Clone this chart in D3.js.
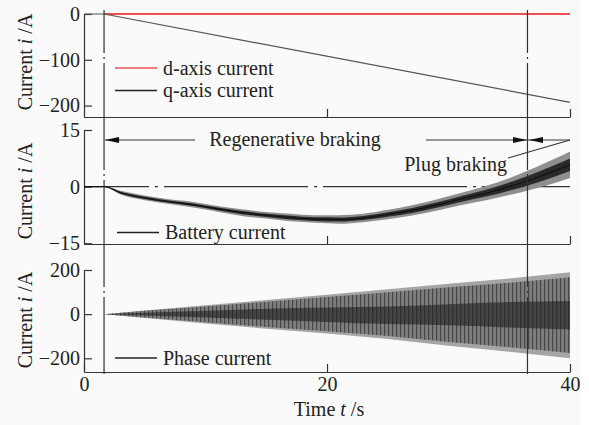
<!DOCTYPE html>
<html>
<head>
<meta charset="utf-8">
<script src="https://cdn.jsdelivr.net/npm/d3@7"></script>
<style>
  body { margin: 0; background: #fff; }
  svg { display: block; }
  text { font-family: "Liberation Serif", "Times New Roman", serif; fill: #222; }
</style>
</head>
<body>
<svg id="chart" width="589" height="425"></svg>
<script>
// ---- data ----
const timeTicks = [0, 20, 40];
const brakingTimes = [1.65, 36.5];          // start of braking, start of plug braking

const topTicks = [0, -100, -200];
const midTicks = [15, 0, -15];
const botTicks = [200, 0, -200];

// top panel : dq currents
const qTime = [0, 1.65, 40];
const qCurrent = [0, 0, -193];
const dTime = [1.65, 40];
const dCurrent = [0, 0];

// middle panel : battery current (centre of the noisy band + half width)
const batteryTime   = [0, 1.65, 3, 5, 7, 9, 11, 13, 15, 17, 19, 21, 23, 25, 27, 29, 31, 33, 35, 37, 39, 40];
const batteryMid    = [0, 0, -1.6, -3.0, -4.0, -4.8, -5.9, -6.9, -7.6, -8.2, -8.6, -8.7, -8.3, -7.4, -6.3, -4.9, -3.3, -1.8, 0, 2.1, 4.5, 5.8];
const batterySpread = [0, 0, 0.4, 0.5, 0.5, 0.6, 0.6, 0.7, 0.7, 0.8, 0.8, 0.9, 0.9, 1.0, 1.1, 1.2, 1.3, 1.5, 1.8, 2.2, 2.6, 2.8];

// bottom panel : phase current envelope and dark core
const phaseTime      = [0, 1.65, 5, 10, 15, 20, 25, 30, 35, 40];
const phaseUpper     = [0, 0, 17, 40, 64, 88, 113, 138, 162, 190];
const phaseLower     = [0, 0, -17, -42, -66, -88, -113, -143, -170, -200];
const phaseCoreUpper = [0, 0, 6, 15, 25, 30, 35, 45, 55, 60];
const phaseCoreLower = [0, 0, -6, -15, -25, -35, -45, -50, -60, -70];

const legendTop = ['d-axis current', 'q-axis current'];
const legendMid = ['Battery current'];
const legendBot = ['Phase current'];

// ---- layout ----
const svg = d3.select('#chart');
const defs = svg.append('defs');
const root = svg.append('g');

defs.append('clipPath').attr('id', 'page')
    .append('rect').attr('width', 580).attr('height', 425);
root.attr('clip-path', 'url(#page)');
root.append('rect').attr('width', 580).attr('height', 425).attr('fill', '#fafafa');

// texture standing for the fast oscillation of the phase current
const stripes = defs.append('pattern')
    .attr('id', 'stripes').attr('patternUnits', 'userSpaceOnUse')
    .attr('width', 4).attr('height', 10);
stripes.append('rect').attr('width', 4).attr('height', 10).attr('fill', '#7e7e7e');
stripes.append('rect').attr('width', 1.2).attr('height', 10).attr('fill', '#474747');

const x = d3.scaleLinear().domain([0, 40]).range([84, 570]);

const panels = [
    {key: 'top', domain: [-225, 0], range: [117, 14], ticks: topTicks, labelY: 62},
    {key: 'mid', domain: [-15.2, 15], range: [244, 130], ticks: midTicks, labelY: 191},
    {key: 'bot', domain: [-262, 200], range: [372, 270], ticks: botTicks, labelY: 320}
];
panels.forEach(p => p.y = d3.scaleLinear().domain(p.domain).range(p.range));
const [pTop, pMid, pBot] = panels;

const styleAxis = g => {
    g.attr('font-family', null).attr('font-size', null);
    g.select('.domain').attr('stroke', '#333').attr('stroke-width', 1.2);
    g.selectAll('.tick line').attr('stroke', '#333').attr('stroke-width', 1.2);
    g.selectAll('.tick text').attr('font-size', 20).attr('fill', '#222');
};

// ---- axes ----
panels.forEach(p => {
    root.append('g')
        .attr('transform', `translate(${x(0)},0)`)
        .call(d3.axisLeft(p.y).tickValues(p.ticks).tickSizeInner(-8).tickSizeOuter(0).tickPadding(4))
        .call(styleAxis);

    const bottom = d3.axisBottom(x).tickSizeInner(-8).tickSizeOuter(0).tickPadding(5);
    if (p.key === 'bot') bottom.tickValues(timeTicks);
    else bottom.tickValues(timeTicks.slice(1)).tickFormat('');
    root.append('g')
        .attr('transform', `translate(0,${p.range[0]})`)
        .call(bottom)
        .call(styleAxis);

    const lab = root.append('text')
        .attr('transform', `translate(32,${p.labelY}) rotate(-90)`)
        .attr('text-anchor', 'middle').attr('font-size', 20);
    lab.append('tspan').text('Current ');
    lab.append('tspan').attr('font-style', 'italic').text('i');
    lab.append('tspan').text(' /A');
});

const xl = root.append('text').attr('x', 329).attr('y', 416)
    .attr('text-anchor', 'middle').attr('font-size', 20);
xl.append('tspan').text('Time ');
xl.append('tspan').attr('font-style', 'italic').text('t');
xl.append('tspan').text(' /s');

// ---- top panel ----
const lineTop = d3.line().x(d => x(d[0])).y(d => pTop.y(d[1]));
root.append('path').datum(d3.zip(dTime, dCurrent))
    .attr('d', lineTop).attr('fill', 'none')
    .attr('stroke', '#ec5057').attr('stroke-width', 2);
root.append('path').datum(d3.zip(qTime, qCurrent))
    .attr('d', lineTop).attr('fill', 'none')
    .attr('stroke', '#555').attr('stroke-width', 1.2);

// ---- middle panel ----
const mid0 = pMid.y(0);
root.append('line')
    .attr('x1', x(0)).attr('x2', x(40)).attr('y1', mid0).attr('y2', mid0)
    .attr('stroke', '#333').attr('stroke-width', 1.2)
    .attr('stroke-dasharray', '144,6,3,6').attr('stroke-dashoffset', 79);

const battery = batteryTime.map((t, i) => ({t, m: batteryMid[i], s: batterySpread[i]}));
const bandArea = k => d3.area().curve(d3.curveMonotoneX)
    .x(d => x(d.t)).y0(d => pMid.y(d.m - d.s * k)).y1(d => pMid.y(d.m + d.s * k));
root.append('path').datum(battery).attr('d', bandArea(1.25)).attr('fill', '#8f8f8f');
root.append('path').datum(battery).attr('d', bandArea(0.6)).attr('fill', '#2a2a2a');
root.append('path').datum(battery)
    .attr('d', d3.line().curve(d3.curveMonotoneX).x(d => x(d.t)).y(d => pMid.y(d.m)))
    .attr('fill', 'none').attr('stroke', '#111').attr('stroke-width', 1.1);

// ---- bottom panel ----
const phase = phaseTime.map((t, i) => ({t, u: phaseUpper[i], l: phaseLower[i], cu: phaseCoreUpper[i], cl: phaseCoreLower[i]}));
const envArea = k => d3.area().x(d => x(d.t)).y0(d => pBot.y(d.l * k)).y1(d => pBot.y(d.u * k));
root.append('path').datum(phase).attr('d', envArea(1)).attr('fill', '#a5a5a5');
root.append('path').datum(phase).attr('d', envArea(0.88)).attr('fill', 'url(#stripes)');
root.append('path').datum(phase)
    .attr('d', d3.area().curve(d3.curveMonotoneX).x(d => x(d.t)).y0(d => pBot.y(d.cl)).y1(d => pBot.y(d.cu)))
    .attr('fill', '#1e1e1e').attr('opacity', 0.6);

// ---- braking instants ----
root.selectAll('line.brake').data(brakingTimes).join('line')
    .attr('class', 'brake')
    .attr('x1', d => x(d)).attr('x2', d => x(d)).attr('y1', 10).attr('y2', 374)
    .attr('stroke', '#333').attr('stroke-width', 1.2)
    .attr('stroke-dasharray', '107,4,2,4').attr('stroke-dashoffset', 64);

// ---- legends ----
const legend = (labels, colors, x0, y0, dy) => {
    labels.forEach((name, i) => {
        const yy = y0 + i * dy;
        root.append('line').attr('x1', x0).attr('x2', x0 + 42).attr('y1', yy).attr('y2', yy)
            .attr('stroke', colors[i]).attr('stroke-width', 1.5);
        root.append('text').attr('x', x0 + 48).attr('y', yy + 6.5)
            .attr('font-size', 20).text(name);
    });
};
legend(legendTop, ['#ec5057', '#222'], 115, 68, 22.5);
legend(legendMid, ['#222'], 117, 232.5, 0);
legend(legendBot, ['#222'], 115, 358, 0);

// ---- annotations ----
const arrowY = 140;
const head = (tip, dir) => {
    const len = 14, hw = 3;
    root.append('path')
        .attr('d', `M${tip},${arrowY}L${tip - dir * len},${arrowY - hw}L${tip - dir * len},${arrowY + hw}Z`)
        .attr('fill', '#111');
};
const b0 = x(brakingTimes[0]), b1 = x(brakingTimes[1]);
root.append('line').attr('x1', 195).attr('x2', b0 + 1).attr('y1', arrowY).attr('y2', arrowY)
    .attr('stroke', '#333').attr('stroke-width', 1.2);
head(b0 + 1, -1);
root.append('line').attr('x1', 426).attr('x2', x(40)).attr('y1', arrowY).attr('y2', arrowY)
    .attr('stroke', '#333').attr('stroke-width', 1.2);
head(b1 - 0.5, 1);
head(b1 + 1.5, -1);
root.append('line').attr('x1', 508).attr('y1', 158).attr('x2', x(40)).attr('y2', arrowY)
    .attr('stroke', '#333').attr('stroke-width', 1.2);

root.append('text').attr('x', 295).attr('y', 146).attr('text-anchor', 'middle')
    .attr('font-size', 20).text('Regenerative braking');
root.append('text').attr('x', 507).attr('y', 171).attr('text-anchor', 'end')
    .attr('font-size', 20).text('Plug braking');
</script>
</body>
</html>
